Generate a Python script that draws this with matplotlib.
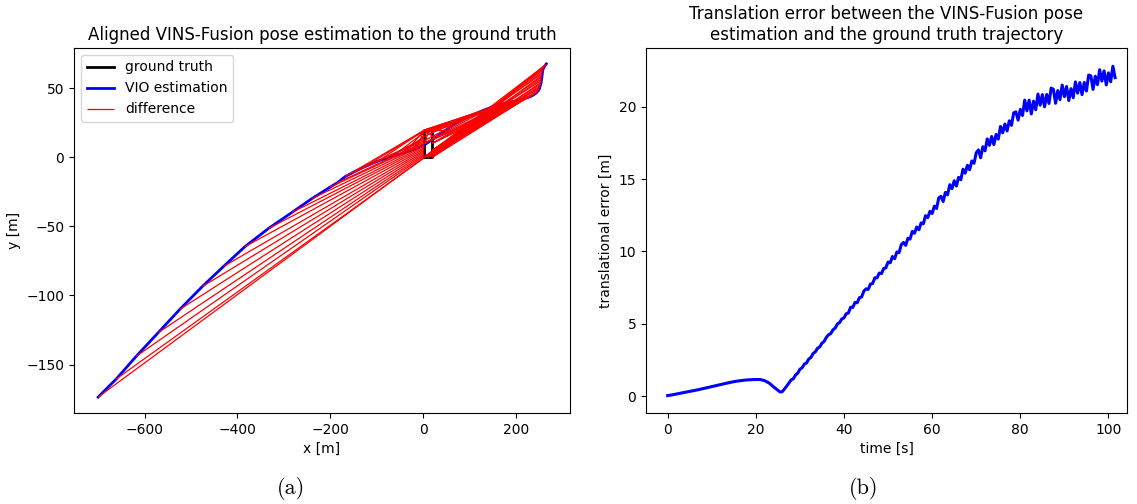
import matplotlib
matplotlib.use("Agg")
import matplotlib.pyplot as plt
from matplotlib.collections import LineCollection


# ground truth: rectangular loop flown repeatedly
gt_x = [2, 19, 19, 2, 2]
gt_y = [0, 0, 19.5, 19.5, 0]

# aligned VIO trajectory (x, y in metres)
vio_x = [-700, -661, -618, -571, -524, -476, -430, -384, -333, -283, -240, -200,
         -185, -168, -150, -130, -112, -96, -80, -65, -50, -38, -25, -15,
         5, 25, 48, 66, 84, 102, 120, 130,
         142, 146, 150, 154, 158, 162, 166, 170, 174, 178,
         182, 186, 190, 194, 198, 202, 206, 210, 214, 218,
         222, 226, 230, 234, 237, 240, 243, 246, 248, 250,
         251, 252, 253, 254, 254.5, 255, 255.5, 256, 256.5, 257,
         257.5, 259, 261, 263, 265]
vio_y = [-173.5, -160.4, -144, -127, -110, -93.6, -79, -64.7, -51.5, -40, -30, -21.5,
         -18.5, -14, -10.8, -7.5, -4.8, -2.6, -0.8, 0.8, 2.3, 3.6, 5.0, 6.3,
         9.5, 14, 19.5, 23.5, 27, 30, 32.5, 34,
         35.5, 36.1, 36.6, 37.1, 37.5, 37.9, 38.2, 38.5, 38.8, 39.1,
         39.4, 39.7, 40, 40.3, 40.6, 40.9, 41.3, 41.6, 42, 42.4,
         42.8, 43.3, 43.8, 44.4, 45, 45.7, 46.5, 47.4, 48.3, 49.3,
         50.5, 51.7, 53, 54.2, 55.5, 56.8, 58, 59.3, 60.5, 61.8,
         63, 64.5, 65.6, 66.6, 67.5]

# matching ground truth sample for every VIO sample
match_x = [2, 4, 2, 2, 2, 2, 2, 2, 2, 2, 2, 2,
           2, 2, 2, 2, 2, 2, 2, 2, 2, 2, 2, 2,
           10, 2, 2, 2, 2, 2, 2, 2,
           2, 2, 2, 10, 19, 19, 19, 10, 2, 2,
           2, 10, 19, 19, 19, 10, 2, 2, 2, 10,
           19, 19, 19, 10, 2, 2, 2, 10, 19, 19,
           19, 10, 2, 19, 19, 10, 2, 19, 19, 10,
           2, 19, 10, 2, 19]
match_y = [0, 0, 1, 2, 3, 4, 5, 6, 7, 8, 9, 10,
           11, 19.5, 12, 19, 13, 19.5, 14, 18, 15, 19.5, 16, 19.5,
           19.5, 19.5, 19.5, 17, 19.5, 15, 19.5, 12,
           19.5, 10, 0, 0, 0, 10, 19.5, 19.5, 19.5, 10,
           0, 0, 0, 10, 19.5, 19.5, 19.5, 10, 0, 0,
           0, 10, 19.5, 19.5, 19.5, 10, 0, 0, 0, 10,
           5, 0, 0, 0, 5, 0, 0, 0, 5, 0,
           0, 0, 0, 0, 0]

# translation error over time
time_s = [0, 1, 2, 3, 4, 5, 6, 7, 8, 9, 10, 11, 12, 13, 14, 15, 16, 17, 18, 19,
          20, 21, 22, 23, 24, 25, 25.5, 26, 27,
          28.0, 28.5, 29.0, 29.5, 30.0, 30.5, 31.0, 31.5, 32.0, 32.5, 33.0, 33.5,
          34.0, 34.5, 35.0, 35.5, 36.0, 36.5, 37.0, 37.5, 38.0, 38.5, 39.0, 39.5,
          40.0, 40.5, 41.0, 41.5, 42.0, 42.5, 43.0, 43.5, 44.0, 44.5, 45.0, 45.5,
          46.0, 46.5, 47.0, 47.5, 48.0, 48.5, 49.0, 49.5, 50.0, 50.5, 51.0, 51.5,
          52.0, 52.5, 53.0, 53.5, 54.0, 54.5, 55.0, 55.5, 56.0, 56.5, 57.0, 57.5,
          58.0, 58.5, 59.0, 59.5, 60.0, 60.5, 61.0, 61.5, 62.0, 62.5, 63.0, 63.5,
          64.0, 64.5, 65.0, 65.5, 66.0, 66.5, 67.0, 67.5, 68.0, 68.5, 69.0, 69.5,
          70.0, 70.5, 71.0, 71.5, 72.0, 72.5, 73.0, 73.5, 74.0, 74.5, 75.0, 75.5,
          76.0, 76.5, 77.0, 77.5, 78.0, 78.5, 79.0, 79.5, 80.0, 80.5, 81.0, 81.5,
          82.0, 82.5, 83.0, 83.5, 84.0, 84.5, 85.0, 85.5, 86.0, 86.5, 87.0, 87.5,
          88.0, 88.5, 89.0, 89.5, 90.0, 90.5, 91.0, 91.5, 92.0, 92.5, 93.0, 93.5,
          94.0, 94.5, 95.0, 95.5, 96.0, 96.5, 97.0, 97.5, 98.0, 98.5, 99.0, 99.5,
          100.0, 100.5, 101.0, 101.5]
trans_error = [0.05, 0.10, 0.16, 0.22, 0.28, 0.34, 0.40, 0.46, 0.53, 0.60, 0.67, 0.74,
               0.81, 0.88, 0.95, 1.01, 1.06, 1.10, 1.13, 1.15, 1.16, 1.16, 1.08, 0.92,
               0.66, 0.42, 0.30, 0.32, 0.70,
               1.13, 1.21, 1.47, 1.59, 1.87, 1.97, 2.22, 2.30, 2.57, 2.68, 2.96, 3.07,
               3.32, 3.41, 3.67, 3.79, 4.07, 4.25, 4.33, 4.59, 4.71, 4.99, 5.09, 5.34,
               5.42, 5.70, 5.75, 6.15, 6.14, 6.48, 6.46, 6.81, 6.86, 7.26, 7.42, 7.38,
               7.75, 7.79, 8.18, 8.18, 8.51, 8.47, 8.82, 8.87, 9.27, 9.22, 9.65, 9.50,
               9.97, 9.92, 10.47, 10.62, 10.42, 10.91, 10.86, 11.39, 11.26, 11.69, 11.50, 11.97,
               11.91, 12.47, 12.34, 12.77, 12.62, 13.13, 12.97, 13.69, 13.81, 13.45, 14.08, 13.91,
               14.61, 14.34, 14.88, 14.52, 15.12, 14.95, 15.68, 15.41, 15.95, 15.65, 16.25, 16.09,
               16.81, 17.01, 16.47, 17.23, 16.95, 17.77, 17.33, 17.94, 17.38, 18.08, 17.76, 18.63,
               18.19, 18.80, 18.32, 19.02, 18.71, 19.57, 19.64, 19.07, 19.81, 19.39, 20.45, 19.71,
               20.45, 19.50, 20.38, 19.79, 20.87, 20.10, 20.83, 19.99, 20.84, 20.22, 21.28, 21.20,
               20.23, 21.11, 20.49, 21.49, 20.69, 21.39, 20.42, 21.24, 20.62, 21.71, 20.93, 21.66,
               20.83, 21.67, 21.08, 22.18, 22.13, 21.19, 22.10, 21.52, 22.55, 21.76, 22.47, 21.50,
               22.33, 21.72, 22.79, 22.00]


fig = plt.figure(figsize=(11.37, 5.04), dpi=100)

# (a) trajectory comparison
ax1 = fig.add_axes([0.0651, 0.1806, 0.4362, 0.7242])
ax1.plot(gt_x, gt_y, color="black", lw=2, label="ground truth")
ax1.plot(vio_x, vio_y, color="blue", lw=2, label="VIO estimation")
segs = [[(vx, vy), (mx, my)] for vx, vy, mx, my in zip(vio_x, vio_y, match_x, match_y)]
ax1.add_collection(LineCollection(segs, colors="red", linewidths=0.9, label="difference"))
ax1.set_xlim(-752, 316)
ax1.set_ylim(-185, 79)
ax1.set_xlabel("x [m]")
ax1.set_ylabel("y [m]")
ax1.set_title("Aligned VINS-Fusion pose estimation to the ground truth")
ax1.legend(loc="upper left")

# (b) translation error
ax2 = fig.add_axes([0.5682, 0.1806, 0.4230, 0.7242])
ax2.plot(time_s, trans_error, color="blue", lw=2.2)
ax2.set_xlim(-4.9, 104.2)
ax2.set_ylim(-1.15, 24.05)
ax2.set_xlabel("time [s]")
ax2.set_ylabel("translational error [m]")
ax2.set_title("Translation error between the VINS-Fusion pose\nestimation and the ground truth trajectory")

fig.text(291 / 1137, 1 - 488 / 504, "(a)", family="cmr10", size=16, ha="center", va="center")
fig.text(864 / 1137, 1 - 488 / 504, "(b)", family="cmr10", size=16, ha="center", va="center")

fig.savefig("out.png", dpi=100)
